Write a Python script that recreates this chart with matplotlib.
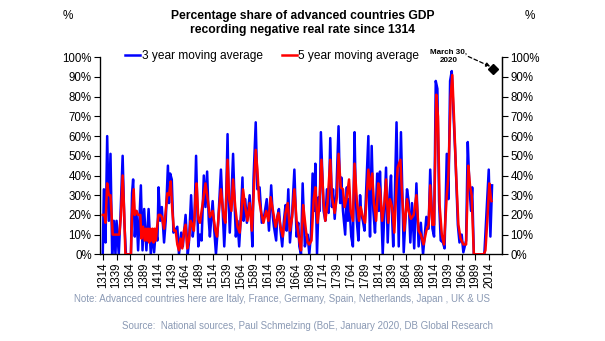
import numpy as np
import matplotlib
matplotlib.use("Agg")
import matplotlib.pyplot as plt

plt.rcParams['font.family'] = ['Liberation Sans', 'DejaVu Sans']

# 3 year moving average (blue)
blue_years = [1314, 1316, 1319, 1322, 1325, 1328, 1331, 1334, 1337, 1339, 1343, 1346, 1350, 1353, 1356, 1365,
              1367, 1369, 1372, 1375, 1378, 1383, 1386, 1389, 1393, 1397, 1401, 1404, 1407, 1410, 1413, 1415,
              1418, 1421, 1425, 1428, 1432, 1434, 1436, 1439, 1442, 1445, 1449, 1452, 1456, 1459, 1464, 1468,
              1470, 1474, 1477, 1480, 1483, 1487, 1490, 1493, 1497, 1500, 1503, 1506, 1508, 1513, 1516, 1519,
              1523, 1528, 1531, 1534, 1537, 1540, 1542, 1544, 1547, 1550, 1553, 1555, 1558, 1561, 1564, 1567,
              1569, 1572, 1575, 1580, 1583, 1585, 1587, 1591, 1594, 1598, 1602, 1606, 1611, 1615, 1619, 1622,
              1624, 1628, 1630, 1633, 1636, 1639, 1642, 1645, 1647, 1650, 1653, 1657, 1661, 1665, 1668, 1670,
              1673, 1676, 1680, 1683, 1685, 1688, 1691, 1694, 1697, 1699, 1702, 1705, 1707, 1709, 1714, 1717,
              1720, 1723, 1726, 1729, 1731, 1734, 1737, 1741, 1744, 1746, 1749, 1753, 1756, 1758, 1760, 1764,
              1767, 1770, 1772, 1774, 1777, 1780, 1782, 1785, 1788, 1795, 1796, 1798, 1801, 1804, 1807, 1811,
              1814, 1816, 1821, 1824, 1827, 1830, 1833, 1836, 1838, 1840, 1843, 1846, 1850, 1854, 1859, 1865,
              1868, 1871, 1874, 1878, 1882, 1886, 1890, 1894, 1900, 1904, 1907, 1911, 1914, 1917, 1920, 1923,
              1926, 1930, 1933, 1937, 1940, 1943, 1946, 1949, 1953, 1957, 1960, 1964, 1967, 1972, 1975, 1978,
              1981, 1983, 1986, 2005, 2008, 2013, 2016, 2019]
blue_vals = [0, 33, 6, 60, 17, 51, 0, 17, 0, 17, 0, 19, 50, 17, 0, 0,
             31, 38, 9, 22, 2, 35, 2, 23, 2, 23, 0, 12, 1, 12, 7, 34,
             17, 24, 6, 17, 45, 26, 41, 38, 11, 12, 14, 0, 11, 4, 20, 0,
             6, 30, 9, 17, 50, 4, 10, 7, 40, 24, 42, 17, 9, 27, 12, 0,
             16, 43, 24, 4, 22, 61, 28, 11, 29, 51, 24, 9, 17, 4, 19, 39,
             17, 28, 16, 30, 16, 4, 38, 67, 33, 34, 16, 19, 28, 12, 35, 19,
             14, 7, 19, 23, 12, 4, 17, 25, 12, 33, 6, 21, 43, 9, 16, 4,
             0, 36, 4, 8, 10, 0, 10, 41, 22, 46, 0, 29, 22, 62, 22, 17,
             33, 21, 59, 24, 33, 18, 31, 65, 26, 39, 22, 10, 34, 17, 28, 9,
             4, 62, 31, 17, 7, 30, 21, 17, 12, 60, 31, 9, 55, 22, 11, 41,
             22, 42, 0, 22, 44, 6, 29, 40, 19, 4, 31, 67, 4, 62, 1, 33,
             27, 6, 26, 3, 36, 4, 16, 0, 19, 13, 43, 13, 9, 88, 84, 27,
             7, 6, 3, 51, 28, 88, 93, 72, 47, 15, 6, 10, 1, 7, 57, 34,
             22, 34, 0, 0, 16, 43, 9, 35]

# 5 year moving average (red)
red_years = [1314, 1317, 1319, 1322, 1325, 1328, 1330, 1332, 1335, 1340, 1344, 1347, 1350, 1353, 1355, 1365,
             1367, 1370, 1372, 1375, 1378, 1382, 1384, 1387, 1390, 1392, 1394, 1396, 1398, 1400, 1402, 1404,
             1406, 1408, 1410, 1412, 1415, 1418, 1421, 1425, 1428, 1431, 1434, 1437, 1440, 1443, 1446, 1449,
             1452, 1455, 1458, 1461, 1464, 1467, 1470, 1473, 1476, 1479, 1482, 1484, 1487, 1490, 1495, 1500,
             1504, 1508, 1513, 1518, 1521, 1525, 1528, 1533, 1536, 1540, 1543, 1547, 1550, 1554, 1558, 1562,
             1565, 1568, 1572, 1576, 1580, 1584, 1587, 1591, 1594, 1597, 1601, 1605, 1610, 1614, 1618, 1623,
             1627, 1632, 1636, 1640, 1645, 1649, 1653, 1657, 1661, 1665, 1670, 1673, 1677, 1682, 1685, 1688,
             1692, 1696, 1699, 1703, 1706, 1710, 1714, 1717, 1721, 1726, 1729, 1734, 1738, 1741, 1745, 1749,
             1752, 1756, 1760, 1763, 1767, 1770, 1774, 1778, 1781, 1785, 1789, 1795, 1798, 1802, 1805, 1809,
             1813, 1816, 1820, 1824, 1827, 1831, 1834, 1838, 1842, 1845, 1848, 1853, 1856, 1860, 1865, 1868,
             1872, 1877, 1882, 1886, 1890, 1895, 1900, 1904, 1907, 1911, 1914, 1918, 1921, 1924, 1928, 1932,
             1937, 1940, 1944, 1947, 1950, 1954, 1958, 1962, 1967, 1972, 1976, 1979, 1982, 1986, 2004, 2007,
             2011, 2014, 2017, 2018]
red_vals = [20, 20, 16, 36, 30, 30, 20, 10, 10, 10, 10, 20, 40, 20, 0, 0,
            20, 33, 20, 22, 20, 20, 8, 14, 7, 13, 7, 13, 6, 13, 7, 13,
            6, 13, 7, 13, 20, 20, 19, 13, 22, 31, 30, 37, 22, 12, 12, 5,
            2, 8, 3, 12, 15, 3, 7, 17, 15, 12, 30, 36, 18, 16, 26, 36,
            28, 19, 22, 12, 9, 24, 33, 19, 16, 48, 28, 22, 38, 24, 14, 11,
            21, 33, 24, 17, 26, 12, 29, 53, 43, 28, 21, 16, 22, 17, 29, 21,
            14, 21, 14, 9, 21, 26, 12, 19, 33, 17, 7, 2, 25, 12, 6, 5,
            7, 28, 34, 16, 24, 48, 26, 17, 26, 48, 29, 21, 29, 51, 34, 33,
            24, 29, 38, 22, 17, 46, 28, 17, 24, 19, 16, 43, 33, 41, 26, 17,
            36, 33, 17, 26, 38, 16, 28, 24, 11, 29, 44, 48, 30, 12, 28, 22,
            18, 20, 30, 12, 10, 5, 12, 15, 35, 15, 15, 81, 70, 25, 10, 5,
            30, 40, 80, 91, 70, 40, 15, 8, 5, 5, 45, 35, 30, 0, 0, 2,
            20, 36, 28, 27]

marker_year = [2020]
marker_val = [94]

x_ticks = list(range(1314, 2015, 25))
y_ticks = list(range(0, 101, 10))

fig = plt.figure(figsize=(6.05, 3.41), dpi=100)
ax = fig.add_axes([100/605, 1 - 254.3/341, 402/605, 197/341])

ax.plot(blue_years, blue_vals, color='#0000FF', lw=1.8, label='3 year moving average', zorder=2)
ax.plot(red_years, red_vals, color='#FF0000', lw=1.8, label='5 year moving average', zorder=3)
ax.plot(marker_year, marker_val, 'D', color='black', ms=5.5, zorder=4, clip_on=False)

ax.set_xlim(1309, 2037)
ax.set_ylim(0, 100)
ax.set_xticks(x_ticks)
ax.set_xticklabels([str(y) for y in x_ticks], rotation=90, fontsize=8.3)
ax.set_yticks(y_ticks)
ax.set_yticklabels(['%d%%' % v for v in y_ticks], fontsize=8.3)
ax.tick_params(axis='both', direction='out', length=4, width=0.8, pad=2)
ax.spines['top'].set_visible(False)
for s in ['left', 'right', 'bottom']:
    ax.spines[s].set_linewidth(0.9)

ax2 = ax.twinx()
ax2.set_ylim(0, 100)
ax2.set_yticks(y_ticks)
ax2.set_yticklabels(['%d%%' % v for v in y_ticks], fontsize=8.3)
ax2.tick_params(axis='y', direction='out', length=4, width=0.8, pad=2)
ax2.spines['top'].set_visible(False)
ax2.spines['right'].set_linewidth(0.9)

leg = ax.legend(loc='upper left', bbox_to_anchor=(0.05, 1.06), ncol=2, frameon=False,
                fontsize=8.6, handlelength=1.3, handletextpad=0.1, columnspacing=1.6,
                borderaxespad=0)

# annotation for the latest reading
ax.text(1940, 100.3, 'March 30,\n2020', fontsize=5.8, fontweight='bold', ha='center', va='center',
        linespacing=1.3)
ax.annotate('', xy=(2016, 95.3), xytext=(1976, 100.4), annotation_clip=False,
            arrowprops=dict(arrowstyle='-|>', color='black', lw=0.9, ls=(0, (3, 2)),
                            mutation_scale=6, shrinkA=0, shrinkB=0))

fig.text(0.5, 1 - 15.5/341, 'Percentage share of advanced countries GDP', ha='center', va='center',
         fontsize=8.7, fontweight='bold')
fig.text(0.5, 1 - 30.5/341, 'recording negative real rate since 1314', ha='center', va='center',
         fontsize=8.7, fontweight='bold')
fig.text(68/605, 1 - 16/341, '%', ha='center', va='center', fontsize=8.5)
fig.text(530/605, 1 - 16/341, '%', ha='center', va='center', fontsize=8.5)

fig.text(282/605, 1 - 299/341,
         'Note: Advanced countries here are Italy, France, Germany, Spain, Netherlands, Japan , UK & US',
         ha='center', va='center', fontsize=7.0, color='#8A99B4')
fig.text(308/605, 1 - 326/341,
         'Source:  National sources, Paul Schmelzing (BoE, January 2020, DB Global Research',
         ha='center', va='center', fontsize=7.0, color='#8A99B4')

fig.savefig('out.png', dpi=100)
